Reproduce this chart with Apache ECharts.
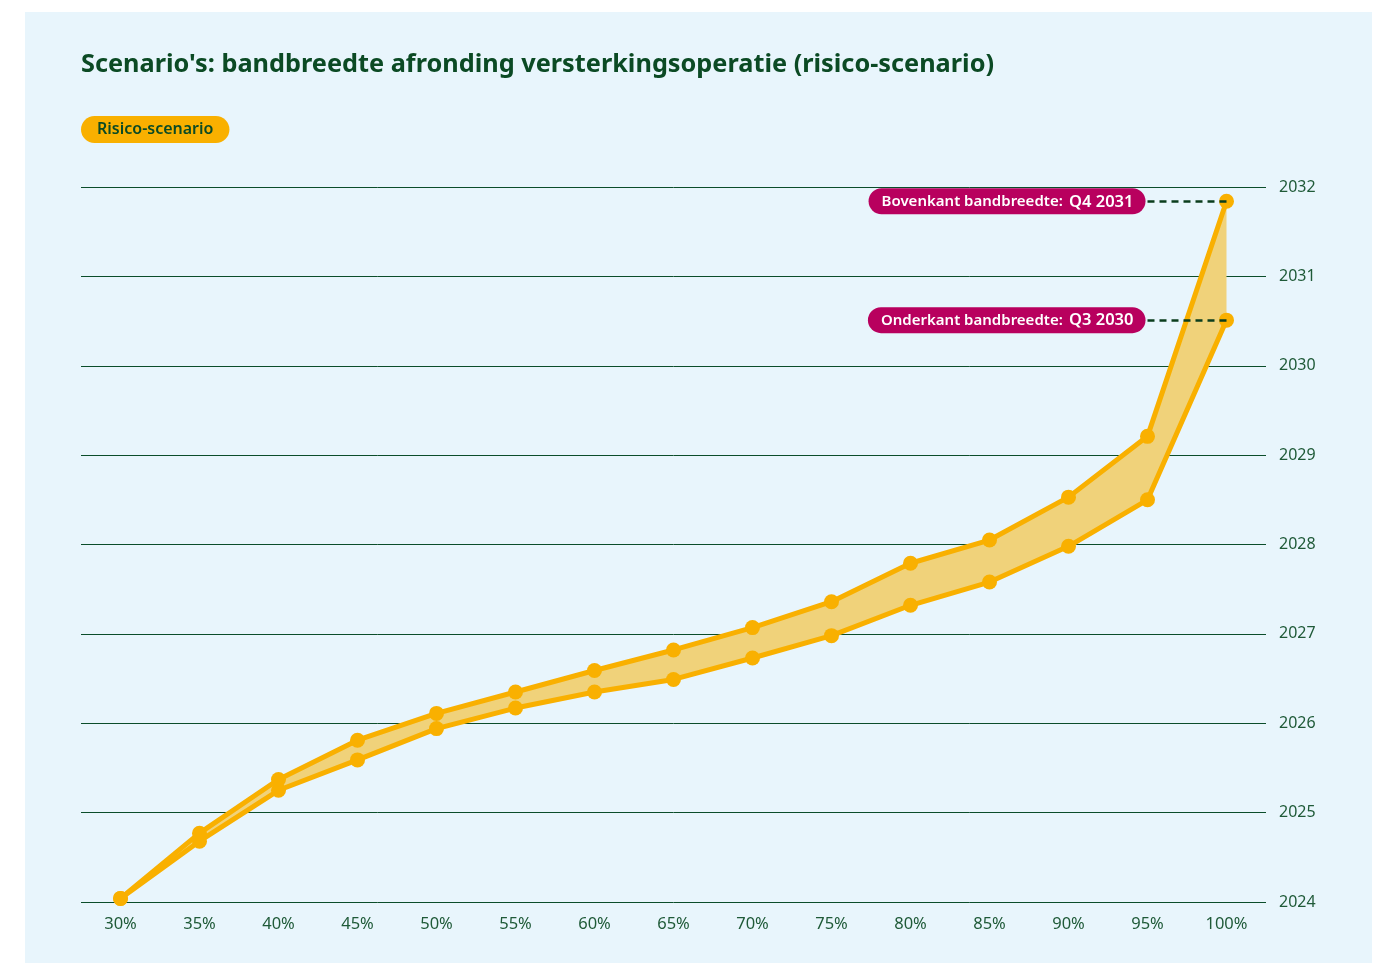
<!DOCTYPE html>
<html>
<head>
<meta charset="utf-8">
<script src="https://cdn.jsdelivr.net/npm/echarts@6/dist/echarts.min.js"></script>
<style>
  html, body { margin: 0; padding: 0; background: #ffffff; }
  .panel {
    position: absolute;
    left: 25px; top: 12px;
    width: 1347px; height: 951px;
    background: #e8f5fc;
  }
  #chart {
    position: absolute;
    left: 0; top: 0;
    width: 1385px; height: 963px;
  }
</style>
</head>
<body>
<div class="panel"></div>
<div id="chart"></div>
<script>
// categorieën (voortgang versterkingsoperatie)
const categories = ['30%', '35%', '40%', '45%', '50%', '55%', '60%', '65%', '70%', '75%', '80%', '85%', '90%', '95%', '100%'];

// jaar van afronding, bovenkant en onderkant van de bandbreedte
const upperValues = [2024.04, 2024.77, 2025.37, 2025.81, 2026.11, 2026.35, 2026.59, 2026.82, 2027.07, 2027.36, 2027.79, 2028.05, 2028.53, 2029.21, 2031.84];
const lowerValues = [2024.04, 2024.68, 2025.25, 2025.59, 2025.94, 2026.17, 2026.35, 2026.49, 2026.73, 2026.98, 2027.32, 2027.58, 2027.98, 2028.50, 2030.51];

// y-as
const yearMin = 2024;
const yearMax = 2032;

// teksten
const titleText = "Scenario's: bandbreedte afronding versterkingsoperatie (risico-scenario)";
const seriesName = 'Risico-scenario';
const upperNote = ['Bovenkant bandbreedte:', 'Q4 2031'];
const lowerNote = ['Onderkant bandbreedte:', 'Q3 2030'];

const green = '#0b4a24';
const orange = '#f9b000';
const magenta = '#b8005e';
const fontFamily = '"Noto Sans", "Open Sans", sans-serif';

const chart = echarts.init(document.getElementById('chart'));

// breedte van de band (boven - onder), gestapeld op onderkant
const bandValues = upperValues.map((v, i) => +(v - lowerValues[i]).toFixed(2));

const last = categories.length - 1;
const noteLine = (value, note) => ({
  data: [[{ coord: [categories[last - 1], value] }, { coord: [categories[last], value] }]],
  symbol: 'none',
  silent: true,
  lineStyle: { color: '#0a3d1c', type: [7, 5], width: 2.5 },
  label: {
    position: 'start',
    distance: 2,
    formatter: '{a|' + note[0] + '}  {b|' + note[1] + '}',
    backgroundColor: magenta,
    borderRadius: 14,
    padding: [5, 12, 4, 13],
    rich: {
      a: { color: '#ffffff', fontSize: 15, fontWeight: 600, fontFamily: fontFamily },
      b: { color: '#ffffff', fontSize: 16.5, fontWeight: 600, fontFamily: fontFamily }
    }
  }
});

const option = {
  backgroundColor: 'transparent',
  animation: false,
  textStyle: { fontFamily: fontFamily },
  title: {
    text: titleText,
    left: 76,
    top: 47,
    textStyle: { color: green, fontSize: 25.3, fontWeight: 'bold', fontFamily: fontFamily }
  },
  legend: {
    left: 76,
    top: 116,
    padding: 0,
    selectedMode: false,
    data: [{ name: seriesName, icon: 'none' }],
    itemWidth: 0,
    itemHeight: 0,
    itemGap: 0,
    textStyle: {
      color: green,
      fontSize: 16,
      fontWeight: 600,
      backgroundColor: orange,
      borderRadius: 14,
      padding: [6, 16, 5, 16]
    }
  },
  grid: {
    left: 81,
    right: 119,
    top: 187,
    bottom: 61
  },
  xAxis: {
    type: 'category',
    data: categories,
    boundaryGap: true,
    axisLine: { show: false },
    axisTick: { show: false },
    axisLabel: { color: '#1f5a38', fontSize: 16.5, margin: 14 }
  },
  yAxis: {
    type: 'value',
    position: 'right',
    min: yearMin,
    max: yearMax,
    interval: 1,
    axisLine: { show: false },
    axisTick: { show: false },
    axisLabel: {
      color: '#1f5a38',
      fontSize: 16,
      margin: 13,
      formatter: (v) => String(v)
    },
    splitLine: { lineStyle: { color: '#0b4d2a', width: 1 } }
  },
  series: [
    {
      name: seriesName,
      type: 'line',
      data: lowerValues,
      stack: 'band',
      symbol: 'none',
      lineStyle: { opacity: 0 },
      z: 1
    },
    {
      name: seriesName,
      type: 'line',
      data: bandValues,
      stack: 'band',
      symbol: 'none',
      lineStyle: { opacity: 0 },
      areaStyle: { color: '#f0d27a', opacity: 1 },
      z: 1
    },
    {
      name: seriesName,
      type: 'line',
      data: lowerValues,
      symbol: 'circle',
      symbolSize: 15,
      itemStyle: { color: orange },
      lineStyle: { color: orange, width: 5 },
      markLine: noteLine(lowerValues[last], lowerNote),
      z: 3
    },
    {
      name: seriesName,
      type: 'line',
      data: upperValues,
      symbol: 'circle',
      symbolSize: 15,
      itemStyle: { color: orange },
      lineStyle: { color: orange, width: 5 },
      markLine: noteLine(upperValues[last], upperNote),
      z: 4
    }
  ]
};

chart.setOption(option);
</script>
</body>
</html>
